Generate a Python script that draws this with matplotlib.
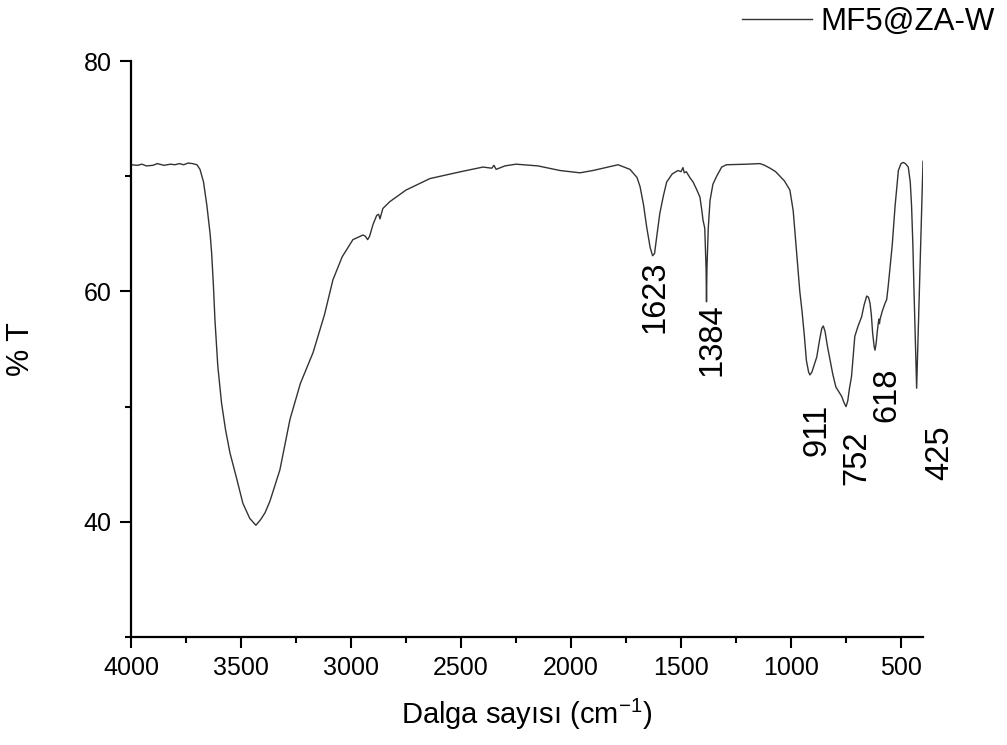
import matplotlib
matplotlib.use("Agg")
import matplotlib.pyplot as plt
from matplotlib.ticker import MultipleLocator

plt.rcParams['font.family'] = ['Liberation Sans', 'DejaVu Sans']
plt.rcParams['mathtext.fontset'] = 'custom'
plt.rcParams['mathtext.rm'] = 'Liberation Sans'
plt.rcParams['mathtext.it'] = 'Liberation Sans:italic'
plt.rcParams['axes.unicode_minus'] = False

wavenumber = [4000, 3970, 3950, 3930, 3900, 3880, 3850, 3820, 3800, 3780, 3760, 3740, 3720, 3700,
              3686, 3670, 3655, 3640, 3633, 3625, 3618, 3605, 3588, 3570, 3550, 3520, 3491, 3460,
              3432, 3410, 3390, 3368, 3323, 3277, 3230, 3172, 3120, 3082, 3040, 2991, 2945,
              2935, 2924, 2915, 2900, 2883, 2874, 2868, 2855, 2823, 2750, 2641, 2500, 2400,
              2360, 2350, 2340, 2300, 2250, 2150, 2050, 1959, 1900, 1786, 1732, 1700, 1686,
              1670, 1656, 1640, 1629, 1620, 1610, 1596, 1580, 1565, 1540, 1514, 1500, 1491,
              1485, 1476, 1460, 1445, 1430, 1414, 1405, 1400, 1392, 1386, 1384, 1382, 1376,
              1368, 1355, 1338, 1315, 1293, 1200, 1141, 1120, 1095, 1070, 1050, 1030, 1005,
              990, 974, 960, 950, 940, 930, 920, 914, 905, 895, 883, 870, 860, 853, 845, 835,
              823, 810, 796, 780, 770, 758, 750, 742, 735, 725, 718, 710, 695, 679, 668, 656,
              648, 641, 635, 629, 622, 618, 613, 608, 603, 600, 598, 595, 585, 572, 565, 558,
              550, 540, 527, 512, 500, 490, 480, 467, 458, 452, 446, 441, 435, 429, 400]
transmittance = [71.0, 70.95, 71.05, 70.9, 70.95, 71.1, 70.95, 71.05, 71.0, 71.1, 71.0, 71.15, 71.1, 71.0,
                 70.6, 69.5, 67.5, 65.0, 63.3, 60.5, 57.5, 53.5, 50.3, 48.0, 46.0, 43.8, 41.6, 40.3,
                 39.7, 40.2, 40.8, 41.8, 44.5, 48.9, 52.0, 54.7, 58.0, 61.0, 63.0, 64.5, 64.9,
                 64.8, 64.5, 64.8, 65.8, 66.6, 66.7, 66.3, 67.2, 67.8, 68.8, 69.8, 70.4, 70.8,
                 70.7, 70.95, 70.6, 70.9, 71.05, 70.9, 70.5, 70.3, 70.5, 71.0, 70.6, 69.9, 69.1,
                 67.5, 65.6, 63.8, 63.1, 63.3, 64.8, 66.8, 68.3, 69.5, 70.2, 70.5, 70.4, 70.75,
                 70.3, 70.4, 69.9, 69.5, 68.9, 68.2, 67.0, 66.2, 65.5, 62.0, 59.1, 62.0, 65.5,
                 67.9, 69.3, 70.0, 70.8, 71.0, 71.05, 71.1, 70.95, 70.7, 70.4, 70.0, 69.6, 68.8,
                 67.0, 63.3, 60.0, 58.3, 56.3, 54.0, 53.0, 52.75, 53.0, 53.6, 54.3, 55.8, 56.8, 57.0, 56.5, 55.3,
                 54.1, 52.8, 51.7, 51.2, 50.9, 50.3, 50.0, 50.5, 51.5, 52.6, 54.2, 56.1, 57.0, 57.8, 58.8, 59.6,
                 59.5, 59.0, 58.0, 56.4, 55.2, 54.9, 55.5, 56.5, 57.3, 57.6, 57.2, 57.6, 58.3, 59.0, 59.3, 60.5,
                 62.1, 64.0, 67.4, 70.5, 71.1, 71.2, 71.1, 70.8, 69.5, 67.4, 64.0, 60.1, 56.0, 51.6, 71.3]

peak_labels = ['1623', '1384', '911', '752', '618', '425']
label_x = [1618, 1359, 882, 700, 564, 323]
label_y = [59.5, 55.8, 48.0, 45.6, 51.0, 46.0]

x_ticks = [4000, 3500, 3000, 2500, 2000, 1500, 1000, 500]
y_ticks = [40, 60, 80]

fig = plt.figure(figsize=(10.07, 7.45), dpi=100)
ax = fig.add_axes([0.130, 0.145, 0.7866, 0.773])

ax.plot(wavenumber, transmittance, color='#333333', lw=1.0, label='MF5@ZA-W')

ax.set_xlim(4000, 400)
ax.set_ylim(30, 80)
ax.set_xticks(x_ticks)
ax.set_yticks(y_ticks)
ax.xaxis.set_minor_locator(MultipleLocator(250))
ax.yaxis.set_minor_locator(MultipleLocator(10))

for s in ['top', 'right']:
    ax.spines[s].set_visible(False)
for s in ['left', 'bottom']:
    ax.spines[s].set_linewidth(1.6)

ax.tick_params(which='major', direction='out', length=8, width=1.5, labelsize=18, pad=6)
ax.tick_params(which='minor', direction='out', length=4, width=1.5)

for t, x, y in zip(peak_labels, label_x, label_y):
    ax.text(x, y, t, rotation=90, ha='center', va='center', fontsize=23.5, clip_on=False)

ax.set_xlabel('Dalga sayısı (cm$^{\\mathrm{-1}}$)', fontsize=21, labelpad=12)
ax.set_ylabel('% T', fontsize=22, labelpad=34)

fig.legend(loc='upper right', bbox_to_anchor=(1.0, 1.008), frameon=False, fontsize=22.5,
           handlelength=2.24, handletextpad=0.26, borderaxespad=0.0)

fig.savefig('out.png', dpi=100)
